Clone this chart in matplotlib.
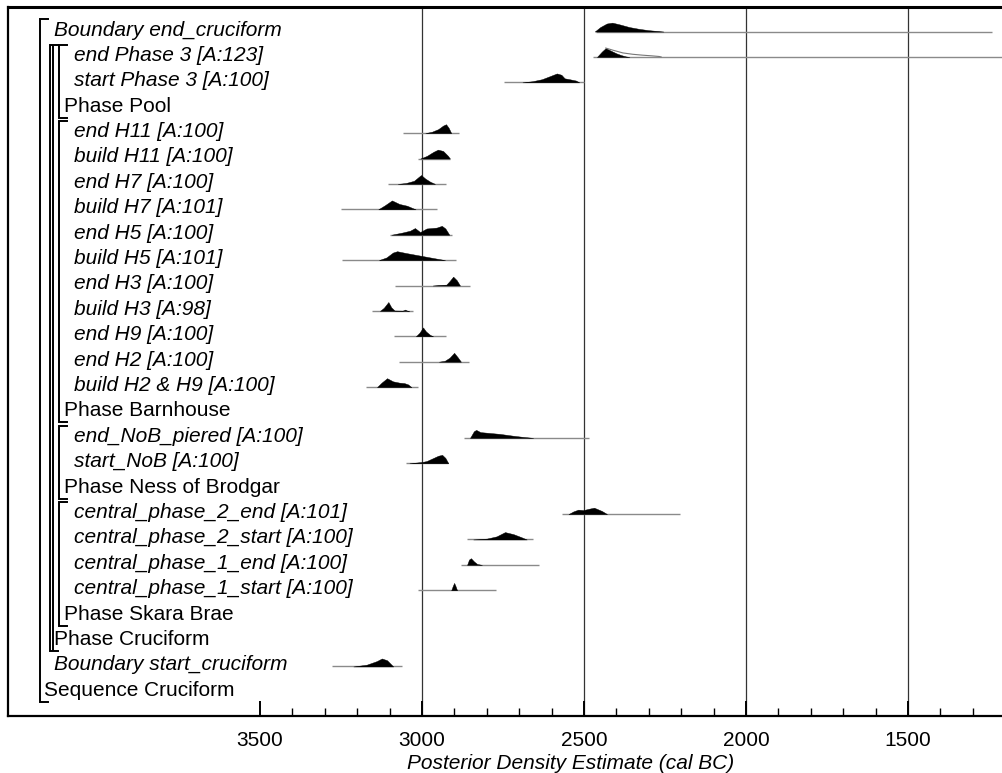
import numpy as np
import matplotlib.pyplot as plt
from matplotlib import transforms

plt.rcParams['font.family'] = ['Liberation Sans', 'DejaVu Sans']

# model rows, top to bottom, with nesting level in the OxCal model
labels = ['Boundary end_cruciform', 'end Phase 3 [A:123]', 'start Phase 3 [A:100]', 'Phase Pool',
          'end H11 [A:100]', 'build H11 [A:100]', 'end H7 [A:100]', 'build H7 [A:101]',
          'end H5 [A:100]', 'build H5 [A:101]', 'end H3 [A:100]', 'build H3 [A:98]',
          'end H9 [A:100]', 'end H2 [A:100]', 'build H2 & H9 [A:100]', 'Phase Barnhouse',
          'end_NoB_piered [A:100]', 'start_NoB [A:100]', 'Phase Ness of Brodgar',
          'central_phase_2_end [A:101]', 'central_phase_2_start [A:100]',
          'central_phase_1_end [A:100]', 'central_phase_1_start [A:100]', 'Phase Skara Brae',
          'Phase Cruciform', 'Boundary start_cruciform', 'Sequence Cruciform']
levels = [1, 3, 3, 2, 3, 3, 3, 3, 3, 3, 3, 3, 3, 3, 3, 2, 3, 3, 2, 3, 3, 3, 3, 2, 1, 1, 0]

# 95.4% range (cal BC) for each row with a distribution
ranges = {
    0: (2462, 1240), 1: (2473, 1150), 2: (2747, 2500),
    4: (3059, 2886), 5: (3012, 2914), 6: (3105, 2926), 7: (3250, 2954),
    8: (3099, 2907), 9: (3247, 2895), 10: (3083, 2852), 11: (3154, 3028),
    12: (3086, 2926), 13: (3071, 2855), 14: (3173, 3012),
    16: (2870, 2485), 17: (3049, 2920),
    19: (2568, 2204), 20: (2861, 2657), 21: (2880, 2639), 22: (3012, 2772),
    25: (3278, 3062),
}

# posterior density samples: (cal BC, relative height)
posterior = {
    0: [(2467, 0), (2450, 0.5), (2430, 0.9), (2413, 1.0), (2390, 0.8), (2360, 0.5), (2330, 0.3),
        (2300, 0.15), (2270, 0.05), (2255, 0)],
    1: [(2460, 0), (2445, 0.6), (2433, 1.0), (2420, 0.75), (2400, 0.4), (2385, 0.2), (2370, 0.05), (2360, 0)],
    2: [(2690, 0), (2660, 0.12), (2630, 0.35), (2605, 0.7), (2584, 1.0), (2570, 0.85), (2560, 0.45),
        (2545, 0.35), (2525, 0.2), (2515, 0)],
    4: [(2990, 0), (2970, 0.15), (2950, 0.45), (2935, 0.85), (2926, 1.0), (2918, 0.6), (2910, 0)],
    5: [(3005, 0), (2985, 0.3), (2965, 0.75), (2951, 1.0), (2935, 0.85), (2920, 0.3), (2914, 0)],
    6: [(3075, 0), (3050, 0.1), (3025, 0.35), (3010, 0.8), (3003, 1.0), (2990, 0.6), (2975, 0.25), (2960, 0)],
    7: [(3135, 0), (3115, 0.45), (3093, 1.0), (3070, 0.6), (3046, 0.4), (3030, 0.15), (3020, 0)],
    8: [(3094, 0), (3060, 0.25), (3037, 0.45), (3022, 0.75), (3006, 0.3), (2986, 0.7), (2955, 0.8),
        (2939, 1.0), (2928, 0.7), (2916, 0)],
    9: [(3133, 0), (3110, 0.3), (3090, 0.85), (3077, 1.0), (3050, 0.8), (3020, 0.6), (2990, 0.4),
        (2960, 0.2), (2929, 0)],
    10: [(2967, 0), (2950, 0.05), (2925, 0.1), (2915, 0.5), (2904, 1.0), (2893, 0.6), (2883, 0)],
    11: [(3130, 0), (3118, 0.35), (3104, 1.0), (3095, 0.4), (3085, 0.05), (3060, 0.03), (3052, 0.15),
         (3046, 0.03), (3040, 0)],
    12: [(3019, 0), (3008, 0.4), (2997, 1.0), (2988, 0.55), (2975, 0.15), (2966, 0)],
    13: [(2948, 0), (2930, 0.1), (2915, 0.45), (2901, 1.0), (2890, 0.5), (2880, 0)],
    14: [(3139, 0), (3125, 0.5), (3108, 1.0), (3090, 0.65), (3070, 0.5), (3055, 0.45), (3043, 0.3), (3033, 0)],
    16: [(2852, 0), (2840, 0.75), (2833, 0.9), (2820, 0.65), (2790, 0.55), (2760, 0.45), (2720, 0.25),
         (2690, 0.12), (2657, 0)],
    17: [(3039, 0), (3000, 0.15), (2986, 0.25), (2965, 0.6), (2950, 0.85), (2938, 0.95), (2928, 0.6), (2919, 0)],
    19: [(2548, 0), (2533, 0.3), (2518, 0.5), (2502, 0.45), (2485, 0.6), (2469, 0.72), (2445, 0.35), (2429, 0)],
    20: [(2842, 0), (2800, 0.1), (2770, 0.35), (2744, 0.83), (2718, 0.6), (2693, 0.25), (2677, 0)],
    21: [(2861, 0), (2855, 0.6), (2849, 0.75), (2840, 0.4), (2830, 0.1), (2815, 0)],
    22: [(2910, 0), (2905, 0.5), (2901, 0.83), (2897, 0.5), (2892, 0)],
    25: [(3212, 0), (3171, 0.2), (3140, 0.6), (3124, 0.9), (3108, 0.7), (3089, 0)],
}

# unmodelled (likelihood) outline drawn over end Phase 3
prior = {
    1: [(2433, 1.0), (2410, 0.75), (2380, 0.45), (2350, 0.3), (2320, 0.2), (2290, 0.12), (2268, 0.05), (2262, 0)],
}

major_ticks = [3500, 3000, 2500, 2000, 1500]
minor_ticks = [t for t in range(3400, 1100, -100) if t % 500]

fig = plt.figure(figsize=(10.03, 7.73), dpi=100)
ax = fig.add_axes([8 / 1003, 1 - 716 / 773, 1005 / 1003, 709 / 773])
ax.set_xlim(4278, 1176)
ax.set_ylim(27.01, -0.906)

# vertical grid at the labelled dates (not at 3500, which sits under the labels)
for t in major_ticks[1:]:
    ax.axvline(t, color='#333333', lw=0.9, zorder=1)

HSCALE = 0.35
OFF = 0.06
for r, (lo, hi) in ranges.items():
    ax.hlines(r + OFF, lo, hi, color='#8a8a8a', lw=1.0, zorder=2)
for r, pts in posterior.items():
    yrs = [p[0] for p in pts]
    h = np.array([p[1] for p in pts])
    ax.fill_between(yrs, r + OFF, r + OFF - h * HSCALE, color='black', lw=0.3, edgecolor='black', zorder=3)
for r, pts in prior.items():
    yrs = [p[0] for p in pts]
    h = np.array([p[1] for p in pts])
    ax.plot(yrs, r + OFF - h * HSCALE, color='#777777', lw=0.8, zorder=4)

# labels and brackets, x in pixels
tr = transforms.blended_transform_factory(transforms.IdentityTransform(), ax.transData)
for i, (lab, lev) in enumerate(zip(labels, levels)):
    grp = lab.startswith('Phase') or lab.startswith('Sequence')
    ax.text(44 + 10 * lev, i, lab, transform=tr, fontsize=15, va='center', ha='left',
            style='normal' if grp else 'italic')
    if grp:
        first = i
        while first > 0 and levels[first - 1] > lev:
            first -= 1
        bx = 40 + 9.5 * lev
        top, bot = first - 0.42, i + 0.45
        ax.plot([bx + 8, bx, bx, bx + 8], [top, top, bot, bot], transform=tr,
                color='black', lw=1.4, clip_on=False, solid_joinstyle='miter')
        if lev == 1:
            ax.plot([bx + 3, bx + 3], [top + 0.05, bot - 0.05], transform=tr,
                    color='black', lw=1.4, clip_on=False)

ax.set_yticks([])
ax.set_xticks(major_ticks)
ax.set_xticks(minor_ticks, minor=True)
ax.set_xticklabels([str(t) for t in major_ticks], fontsize=15)
ax.tick_params(axis='x', which='major', direction='in', length=11, width=1.4, pad=11)
ax.tick_params(axis='x', which='minor', direction='in', length=6, width=1.0)
for s in ['left', 'bottom']:
    ax.spines[s].set_linewidth(1.6)
ax.spines['top'].set_linewidth(2.2)
ax.spines['right'].set_visible(False)

ax.set_xlabel('Posterior Density Estimate (cal BC)', fontsize=15, style='italic')
ax.xaxis.set_label_coords((571 - 8) / 1005, (716 - 754) / 709)

fig.savefig('out.png', dpi=100)
